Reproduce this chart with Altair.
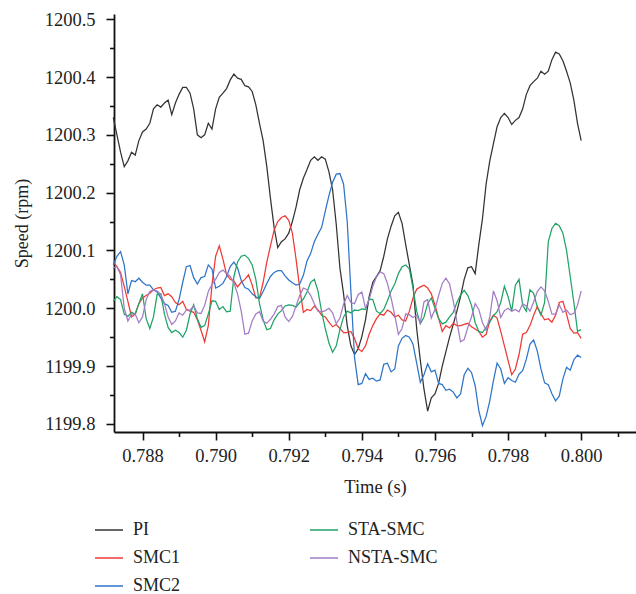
import altair as alt
import pandas as pd

time_s = [
    0.7872, 0.7873, 0.7874, 0.7875, 0.7876, 0.7877, 0.7878, 0.7879, 0.7880, 0.7881,
    0.7882, 0.7883, 0.7884, 0.7885, 0.7886, 0.7887, 0.7888, 0.7889, 0.7890, 0.7891,
    0.7892, 0.7893, 0.7894, 0.7895, 0.7896, 0.7897, 0.7898, 0.7899, 0.7900, 0.7901,
    0.7902, 0.7903, 0.7904, 0.7905, 0.7906, 0.7907, 0.7908, 0.7909, 0.7910, 0.7911,
    0.7912, 0.7913, 0.7914, 0.7915, 0.7916, 0.7917, 0.7918, 0.7919, 0.7920, 0.7921,
    0.7922, 0.7923, 0.7924, 0.7925, 0.7926, 0.7927, 0.7928, 0.7929, 0.7930, 0.7931,
    0.7932, 0.7933, 0.7934, 0.7935, 0.7936, 0.7937, 0.7938, 0.7939, 0.7940, 0.7941,
    0.7942, 0.7943, 0.7944, 0.7945, 0.7946, 0.7947, 0.7948, 0.7949, 0.7950, 0.7951,
    0.7952, 0.7953, 0.7954, 0.7955, 0.7956, 0.7957, 0.7958, 0.7959, 0.7960, 0.7961,
    0.7962, 0.7963, 0.7964, 0.7965, 0.7966, 0.7967, 0.7968, 0.7969, 0.7970, 0.7971,
    0.7972, 0.7973, 0.7974, 0.7975, 0.7976, 0.7977, 0.7978, 0.7979, 0.7980, 0.7981,
    0.7982, 0.7983, 0.7984, 0.7985, 0.7986, 0.7987, 0.7988, 0.7989, 0.7990, 0.7991,
    0.7992, 0.7993, 0.7994, 0.7995, 0.7996, 0.7997, 0.7998, 0.7999, 0.8000,
]

pi = [
    1200.330, 1200.300, 1200.270, 1200.245, 1200.255, 1200.270, 1200.265, 1200.290, 1200.305, 1200.310,
    1200.320, 1200.345, 1200.352, 1200.348, 1200.355, 1200.360, 1200.335, 1200.355, 1200.370, 1200.382,
    1200.382, 1200.372, 1200.345, 1200.300, 1200.295, 1200.300, 1200.320, 1200.310, 1200.345, 1200.365,
    1200.372, 1200.380, 1200.395, 1200.405, 1200.398, 1200.396, 1200.385, 1200.383, 1200.375, 1200.352,
    1200.320, 1200.290, 1200.245, 1200.190, 1200.140, 1200.105, 1200.115, 1200.120, 1200.130, 1200.150,
    1200.175, 1200.205, 1200.225, 1200.240, 1200.256, 1200.262, 1200.256, 1200.262, 1200.258, 1200.236,
    1200.205, 1200.145, 1200.070, 1200.025, 1199.970, 1199.935, 1199.920, 1199.930, 1199.951, 1199.980,
    1200.020, 1200.045, 1200.055, 1200.065, 1200.090, 1200.120, 1200.142, 1200.160, 1200.166, 1200.147,
    1200.110, 1200.075, 1200.040, 1199.965, 1199.910, 1199.860, 1199.822, 1199.845, 1199.852, 1199.870,
    1199.900, 1199.925, 1199.950, 1199.972, 1199.995, 1200.020, 1200.050, 1200.070, 1200.072, 1200.060,
    1200.110, 1200.155, 1200.215, 1200.255, 1200.285, 1200.314, 1200.330, 1200.337, 1200.330, 1200.318,
    1200.325, 1200.330, 1200.345, 1200.370, 1200.385, 1200.392, 1200.398, 1200.410, 1200.405, 1200.410,
    1200.430, 1200.443, 1200.440, 1200.428, 1200.410, 1200.390, 1200.360, 1200.320, 1200.290,
]

smc1 = [
    1200.080, 1200.072, 1200.062, 1200.038, 1200.012, 1199.985, 1199.990, 1200.008, 1200.018, 1200.022,
    1200.026, 1200.032, 1200.035, 1200.036, 1200.022, 1200.025, 1200.020, 1200.010, 1200.006, 1200.012,
    1199.998, 1199.995, 1199.993, 1199.980, 1199.962, 1199.942, 1199.970, 1200.040, 1200.090, 1200.108,
    1200.085, 1200.058, 1200.050, 1200.047, 1200.037, 1200.045, 1200.050, 1200.058, 1200.040, 1200.018,
    1200.018, 1200.045, 1200.080, 1200.108, 1200.135, 1200.150, 1200.157, 1200.160, 1200.152, 1200.130,
    1200.085, 1200.035, 1199.993, 1199.998, 1199.996, 1200.004, 1199.997, 1199.988, 1199.985, 1199.976,
    1199.968, 1199.972, 1199.965, 1199.958, 1199.958, 1199.960, 1199.948, 1199.930, 1199.925, 1199.935,
    1199.955, 1199.970, 1199.982, 1199.990, 1199.988, 1199.997, 1199.993, 1199.985, 1199.988, 1199.980,
    1199.978, 1199.995, 1200.018, 1200.033, 1200.037, 1200.040, 1200.035, 1200.025, 1200.006, 1199.983,
    1199.960, 1199.970, 1199.966, 1199.974, 1199.970, 1199.970, 1199.972, 1199.974, 1199.968, 1199.964,
    1199.960, 1199.950, 1199.955, 1199.978, 1199.988, 1199.983, 1199.960, 1199.935, 1199.910, 1199.885,
    1199.895, 1199.920, 1199.955, 1199.958, 1199.970, 1199.988, 1200.003, 1199.990, 1199.980, 1199.982,
    1199.976, 1199.988, 1200.010, 1200.012, 1199.990, 1199.965, 1199.957, 1199.958, 1199.948,
]

smc2 = [
    1200.075, 1200.090, 1200.098, 1200.075, 1200.025, 1200.048, 1200.046, 1200.052, 1200.045, 1200.040,
    1200.040, 1200.032, 1200.028, 1200.018, 1200.008, 1200.005, 1199.993, 1199.995, 1200.015, 1200.045,
    1200.072, 1200.074, 1200.053, 1200.042, 1200.053, 1200.055, 1200.075, 1200.068, 1200.035, 1200.038,
    1200.043, 1200.055, 1200.072, 1200.080, 1200.070, 1200.048, 1200.036, 1200.033, 1200.025, 1200.020,
    1200.017, 1200.029, 1200.043, 1200.055, 1200.062, 1200.065, 1200.065, 1200.056, 1200.049, 1200.044,
    1200.040, 1200.042, 1200.057, 1200.082, 1200.095, 1200.115, 1200.128, 1200.140, 1200.168, 1200.195,
    1200.218, 1200.232, 1200.233, 1200.215, 1200.150, 1200.030, 1199.915, 1199.868, 1199.870, 1199.887,
    1199.877, 1199.879, 1199.874, 1199.876, 1199.903, 1199.905, 1199.890, 1199.895, 1199.935, 1199.948,
    1199.953, 1199.950, 1199.938, 1199.905, 1199.872, 1199.885, 1199.904, 1199.890, 1199.893, 1199.870,
    1199.868, 1199.858, 1199.860, 1199.855, 1199.845, 1199.852, 1199.885, 1199.896, 1199.889, 1199.866,
    1199.823, 1199.797, 1199.813, 1199.840, 1199.875, 1199.905, 1199.895, 1199.870, 1199.880, 1199.875,
    1199.872, 1199.886, 1199.892, 1199.912, 1199.938, 1199.945, 1199.926, 1199.895, 1199.871, 1199.868,
    1199.852, 1199.840, 1199.848, 1199.878, 1199.898, 1199.893, 1199.911, 1199.919, 1199.915,
]

sta_smc = [
    1200.012, 1200.020, 1200.015, 1199.990, 1199.986, 1199.993, 1199.990, 1200.008, 1200.025, 1199.982,
    1199.965, 1199.985, 1200.024, 1200.025, 1199.990, 1199.967, 1199.958, 1199.962, 1199.958, 1199.950,
    1199.962, 1199.990, 1200.006, 1199.982, 1199.967, 1199.970, 1199.990, 1200.013, 1200.012, 1199.998,
    1200.003, 1199.994, 1199.995, 1200.055, 1200.080, 1200.090, 1200.092, 1200.086, 1200.075, 1200.050,
    1200.008, 1199.980, 1199.963, 1199.965, 1199.980, 1199.990, 1199.996, 1200.004, 1200.006, 1200.005,
    1200.002, 1200.010, 1200.016, 1200.028, 1200.045, 1200.050, 1200.030, 1199.994, 1199.965, 1199.940,
    1199.924, 1199.935, 1199.963, 1199.985, 1199.995, 1199.992, 1199.997, 1199.996, 1199.999, 1199.998,
    1200.016, 1200.015, 1199.995, 1199.991, 1199.998, 1200.013, 1200.030, 1200.042, 1200.060, 1200.072,
    1200.075, 1200.068, 1200.035, 1199.995, 1199.973, 1199.985, 1200.008, 1200.018, 1200.000, 1199.982,
    1199.973, 1199.976, 1199.985, 1199.993, 1200.010, 1200.023, 1200.031, 1200.022, 1200.005, 1199.975,
    1199.960, 1199.958, 1199.967, 1199.976, 1199.987, 1199.994, 1200.010, 1200.038, 1200.020, 1199.995,
    1200.040, 1200.050, 1200.005, 1199.995, 1200.032, 1200.026, 1200.002, 1199.988, 1200.010, 1200.115,
    1200.138, 1200.147, 1200.143, 1200.130, 1200.100, 1200.055, 1200.010, 1199.960, 1199.963,
]

nsta_smc = [
    1200.070, 1200.072, 1200.058, 1200.000, 1199.978, 1199.990, 1199.990, 1199.975, 1199.985, 1200.015,
    1200.029, 1200.032, 1200.030, 1200.024, 1200.008, 1199.985, 1199.972, 1199.978, 1199.992, 1199.988,
    1199.997, 1199.997, 1200.004, 1199.992, 1199.991, 1200.005, 1200.029, 1200.041, 1200.050, 1200.062,
    1200.066, 1200.060, 1200.055, 1200.044, 1200.025, 1199.995, 1199.955, 1199.957, 1199.978, 1199.990,
    1199.994, 1199.978, 1199.974, 1199.981, 1199.990, 1200.003, 1200.005, 1199.985, 1199.977, 1199.986,
    1200.004, 1200.022, 1200.035, 1200.032, 1200.022, 1200.008, 1199.995, 1199.994, 1199.996, 1200.000,
    1199.992, 1199.973, 1199.983, 1200.007, 1200.022, 1200.010, 1200.008, 1200.024, 1200.028, 1200.000,
    1200.015, 1200.038, 1200.054, 1200.063, 1200.060, 1200.043, 1200.018, 1199.988, 1199.955, 1199.965,
    1199.990, 1199.989, 1199.984, 1199.988, 1199.975, 1200.011, 1200.015, 1199.983, 1199.998, 1200.022,
    1200.043, 1200.052, 1200.042, 1200.013, 1199.977, 1199.942, 1199.946, 1199.967, 1199.985, 1200.008,
    1199.998, 1199.975, 1199.962, 1199.985, 1200.030, 1200.013, 1199.984, 1199.996, 1200.000, 1199.995,
    1199.998, 1199.994, 1200.008, 1200.004, 1199.995, 1200.011, 1200.029, 1200.037, 1200.030, 1200.012,
    1199.990, 1199.990, 1200.006, 1199.993, 1199.997, 1199.989, 1199.991, 1200.005, 1200.030,
]

series_names = ["PI", "SMC1", "SMC2", "STA-SMC", "NSTA-SMC"]
series_colors = ["#333333", "#ee3a33", "#2e74c9", "#1fa366", "#a27cc6"]

x_tick_values = [0.788, 0.789, 0.790, 0.791, 0.792, 0.793, 0.794, 0.795,
                 0.796, 0.797, 0.798, 0.799, 0.800, 0.801]
y_tick_values = [1199.80, 1199.85, 1199.90, 1199.95, 1200.00, 1200.05, 1200.10,
                 1200.15, 1200.20, 1200.25, 1200.30, 1200.35, 1200.40, 1200.45, 1200.50]

rows = []
for name, vals in zip(series_names, [pi, smc1, smc2, sta_smc, nsta_smc]):
    for t, v in zip(time_s, vals):
        rows.append({"time": t, "speed": v, "series": name})
df = pd.DataFrame(rows)

FONT = "Liberation Serif"
TXT = "#222222"

x_major = "round(datum.value * 1000) % 2 == 0"
y_major = "round(datum.value * 100) % 10 == 0"

chart = alt.Chart(df).mark_line(strokeWidth=1.25).encode(
    x=alt.X(
        "time:Q",
        title="Time (s)",
        scale=alt.Scale(domain=[0.78722, 0.8015], nice=False, zero=False),
        axis=alt.Axis(
            values=x_tick_values,
            labelExpr=f"{x_major} ? format(datum.value, '.3f') : ''",
            tickSize={"condition": {"test": x_major, "value": 8}, "value": 4.5},
            labelOverlap=False,
            labelFlush=False,
            grid=False,
            domainColor="#111111",
            domainWidth=1.8,
            tickColor="#111111",
            tickWidth=1.6,
            labelFont=FONT,
            labelFontSize=18.5,
            labelColor=TXT,
            labelPadding=6,
            titleFont=FONT,
            titleFontSize=18.5,
            titleFontWeight="normal",
            titleColor=TXT,
            titlePadding=13,
        ),
    ),
    y=alt.Y(
        "speed:Q",
        title="Speed (rpm)",
        scale=alt.Scale(domain=[1199.786, 1200.509], nice=False, zero=False),
        axis=alt.Axis(
            values=y_tick_values,
            labelExpr=f"{y_major} ? format(datum.value, '.1f') : ''",
            tickSize={"condition": {"test": y_major, "value": 8}, "value": 4.5},
            labelOverlap=False,
            labelFlush=False,
            grid=False,
            domainColor="#111111",
            domainWidth=1.8,
            tickColor="#111111",
            tickWidth=1.6,
            labelFont=FONT,
            labelFontSize=18.5,
            labelColor=TXT,
            labelPadding=11,
            titleFont=FONT,
            titleFontSize=18,
            titleFontWeight="normal",
            titleColor=TXT,
            titlePadding=13,
        ),
    ),
    color=alt.Color(
        "series:N",
        scale=alt.Scale(domain=series_names, range=series_colors),
        legend=alt.Legend(
            title=None,
            orient="none",
            legendX=-20,
            legendY=501,
            columns=2,
            symbolType="stroke",
            symbolSize=784,
            symbolStrokeWidth=1.5,
            labelFont=FONT,
            labelFontSize=18,
            labelColor=TXT,
            labelOffset=9,
            columnPadding=126,
            rowPadding=4,
        ),
    ),
).properties(
    width=522,
    height=418,
    padding={"left": 114, "top": 14, "right": 0, "bottom": 162},
    autosize=alt.AutoSizeParams(type="none"),
).configure_view(strokeWidth=0)

chart.save("out.html", embed_options={"renderer": "svg", "actions": False})
